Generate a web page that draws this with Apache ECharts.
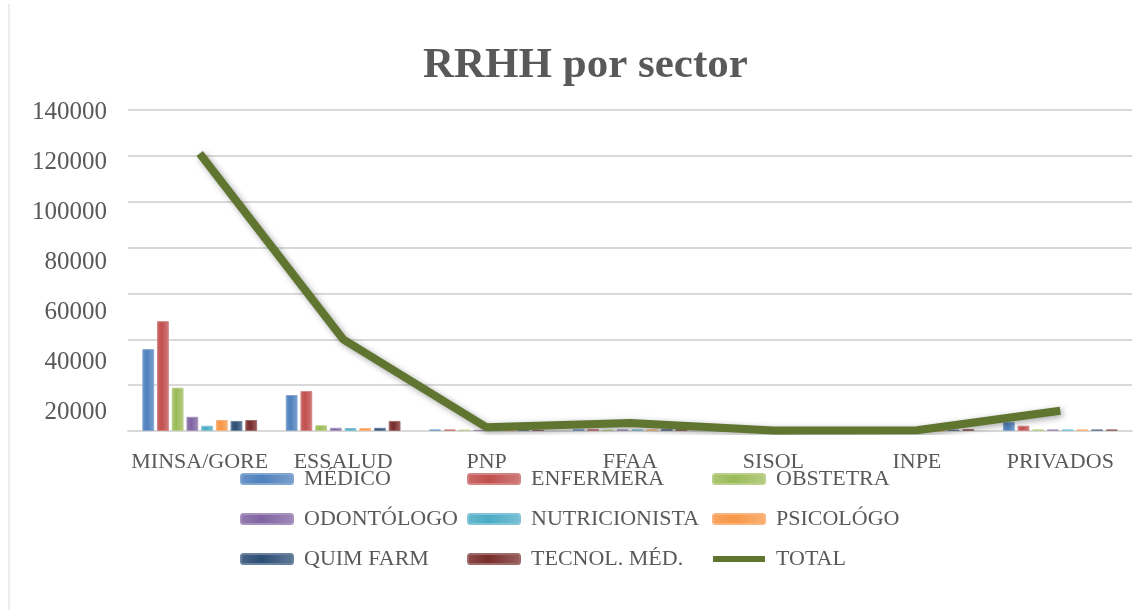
<!DOCTYPE html>
<html>
<head>
    <meta charset="UTF-8" />
    <title>RRHH por sector</title>
    <script type="text/javascript" src="https://cdn.jsdelivr.net/npm/echarts@6/dist/echarts.min.js"></script>
</head>
<body style="margin:0;">

<div id="main" style="width: 1148px;height: 610px;"></div>

<script>
    // datos
    var sectores = ['MINSA/GORE', 'ESSALUD', 'PNP', 'FFAA', 'SISOL', 'INPE', 'PRIVADOS'];
    var medico = [35700, 15700, 700, 800, 200, 300, 4000];
    var enfermera = [47900, 17400, 700, 900, 200, 300, 2300];
    var obstetra = [18900, 2500, 600, 600, 100, 200, 700];
    var odontologo = [6200, 1400, 500, 700, 100, 200, 700];
    var nutricionista = [2300, 1300, 400, 700, 100, 200, 700];
    var psicologo = [4800, 1300, 400, 700, 100, 200, 700];
    var quimFarm = [4400, 1400, 500, 800, 100, 600, 700];
    var tecnol = [4800, 4400, 500, 900, 100, 800, 700];
    var total = [121000, 40000, 1600, 3500, 200, 300, 8800];

    var barras = [
        {name: 'MÉDICO', data: medico, color: '#4F81BD'},
        {name: 'ENFERMERA', data: enfermera, color: '#C0504D'},
        {name: 'OBSTETRA', data: obstetra, color: '#9BBB59'},
        {name: 'ODONTÓLOGO', data: odontologo, color: '#8064A2'},
        {name: 'NUTRICIONISTA', data: nutricionista, color: '#4BACC6'},
        {name: 'PSICOLÓGO', data: psicologo, color: '#F79646'},
        {name: 'QUIM FARM', data: quimFarm, color: '#2C4D75'},
        {name: 'TECNOL. MÉD.', data: tecnol, color: '#772C2A'}
    ];

    var fuente = 'Liberation Serif';
    var gris = '#595959';
    var verde = '#5F7530';

    function degradado(c) {
        return new echarts.graphic.LinearGradient(0, 0, 1, 0, [
            {offset: 0, color: echarts.color.lift(c, 0.15)},
            {offset: 0.4, color: c},
            {offset: 1, color: echarts.color.lift(c, 0.25)}
        ]);
    }

    var series = barras.map(function (b) {
        return {
            name: b.name,
            type: 'bar',
            data: b.data,
            color: b.color,
            barGap: '25%',
            barCategoryGap: '20%',
            itemStyle: {
                color: degradado(b.color),
                borderColor: echarts.color.lift(b.color, 0.3),
                borderWidth: 1
            }
        };
    });

    series.push({
        name: 'TOTAL',
        type: 'line',
        data: total,
        color: verde,
        symbol: 'none',
        z: 5,
        lineStyle: {
            width: 8,
            color: verde,
            shadowColor: 'rgba(0,0,0,0.35)',
            shadowBlur: 6,
            shadowOffsetX: 2,
            shadowOffsetY: 2
        }
    });

    function leyenda(x, nombres) {
        return {
            orient: 'vertical',
            left: x,
            top: 463,
            itemWidth: 52,
            itemHeight: 10,
            itemGap: 18,
            data: nombres,
            textStyle: {
                fontFamily: fuente,
                fontSize: 22,
                color: gris,
                padding: [9, 0, 0, 6]
            }
        };
    }

    var mychart = echarts.init(document.getElementById('main'));

    var option = {
        animation: false,
        backgroundColor: '#ffffff',
        title: {
            text: 'RRHH por sector',
            left: 418,
            top: 39,
            textStyle: {
                fontFamily: fuente,
                fontSize: 43,
                fontWeight: 'bold',
                color: gris
            }
        },
        legend: [
            leyenda(235, ['MÉDICO', 'ODONTÓLOGO', 'QUIM FARM']),
            leyenda(462, ['ENFERMERA', 'NUTRICIONISTA', 'TECNOL. MÉD.']),
            leyenda(707, ['OBSTETRA', 'PSICOLÓGO', {
                name: 'TOTAL',
                icon: 'path://M0,0M52,10M0,2h52v6h-52z',
                itemStyle: {color: verde}
            }])
        ],
        grid: [
            {left: 128, right: 16, top: 110, bottom: 179},
            {left: 128, right: 16, top: 112, bottom: 148}
        ],
        xAxis: [
            {
                type: 'category',
                data: sectores,
                gridIndex: 0,
                axisTick: {show: false},
                axisLine: {lineStyle: {color: '#d9d9d9', width: 2}},
                axisLabel: {
                    interval: 0,
                    fontFamily: fuente,
                    fontSize: 22,
                    color: gris,
                    margin: 20
                }
            },
            {type: 'value', gridIndex: 1, show: false}
        ],
        yAxis: [
            {
                type: 'value',
                gridIndex: 0,
                min: 0,
                max: 140000,
                interval: 20000,
                axisLabel: {show: false},
                axisLine: {show: false},
                axisTick: {show: false},
                splitLine: {lineStyle: {color: '#d9d9d9', width: 2}}
            },
            {
                type: 'value',
                gridIndex: 1,
                min: 0,
                max: 140000,
                interval: 20000,
                axisLine: {show: false},
                axisTick: {show: false},
                splitLine: {show: false},
                axisLabel: {
                    fontFamily: fuente,
                    fontSize: 25,
                    color: gris,
                    margin: 21,
                    formatter: function (v) {
                        return v === 0 ? '' : v;
                    }
                }
            }
        ],
        graphic: [{
            type: 'line',
            shape: {x1: 9, y1: 4, x2: 9, y2: 610},
            style: {stroke: '#d9d9d9', lineWidth: 1}
        }],
        series: series
    };

    mychart.setOption(option);
</script>

</body>
</html>
